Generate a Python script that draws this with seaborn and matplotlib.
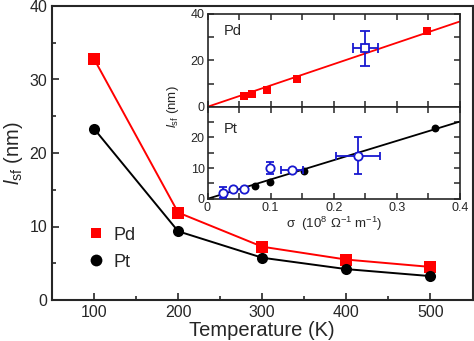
import matplotlib
matplotlib.use("Agg")
import matplotlib.pyplot as plt
from matplotlib.lines import Line2D
from matplotlib.ticker import MultipleLocator
import seaborn as sns
import pandas as pd
import numpy as np

# ---- data ----
temperature = [100, 200, 300, 400, 500]
pd_lsf = [32.8, 11.9, 7.25, 5.5, 4.5]
pt_lsf = [23.3, 9.35, 5.75, 4.2, 3.25]

# inset: Pd
pd_sigma = [0.0585, 0.0707, 0.094, 0.142, 0.348]
pd_l = [4.5, 5.6, 7.3, 12.0, 32.6]
pd_ref_sigma = [0.25]
pd_ref_l = [25.2]
pd_ref_xerr = [0.02]
pd_ref_yerr = [7.5]
pd_slope = 92.0

# inset: Pt
pt_sigma = [0.0759, 0.0996, 0.153, 0.360]
pt_l = [4.2, 5.6, 9.1, 23.2]
pt_ref_sigma = [0.0245, 0.040, 0.0577, 0.0996, 0.134, 0.238]
pt_ref_l = [2.05, 3.3, 3.3, 10.0, 9.45, 14.1]
pt_ref_xerr = [0.0, 0.0, 0.0, 0.0, 0.017, 0.035]
pt_ref_yerr = [1.8, 0.0, 0.0, 1.9, 0.0, 6.0]
pt_slope = 63.0

fit_sigma = [0.0, 0.4]
inset_xticks = [0, 0.1, 0.2, 0.3, 0.4]
inset_xticklabels = ["0", "0.1", "0.2", "0.3", "0.4"]

sns.set_style("ticks")
plt.rcParams["font.family"] = ["Liberation Sans", "DejaVu Sans"]
plt.rcParams["mathtext.fontset"] = "custom"
plt.rcParams["mathtext.rm"] = "Liberation Sans"
plt.rcParams["mathtext.it"] = "Liberation Sans:italic"
plt.rcParams["mathtext.bf"] = "Liberation Sans:bold"

W, H = 474, 341
fig = plt.figure(figsize=(W / 100, H / 100), dpi=100)

def fx(px):
    return px / W

def fy(py):
    return (H - py) / H

# main axes
ax = fig.add_axes([fx(52), fy(300), fx(472.5) - fx(52), fy(6) - fy(300)])
df = pd.DataFrame({
    "T": temperature * 2,
    "l": pd_lsf + pt_lsf,
    "metal": ["Pd"] * len(pd_lsf) + ["Pt"] * len(pt_lsf),
})
sns.lineplot(data=df, x="T", y="l", hue="metal", style="metal",
             markers={"Pd": "s", "Pt": "o"}, dashes=False,
             palette={"Pd": "#ff0000", "Pt": "black"},
             markersize=8, markeredgewidth=0, linewidth=1.4,
             legend=False, ax=ax)
ax.set_xlim(50, 550)
ax.set_ylim(0, 40)
ax.xaxis.set_major_locator(plt.FixedLocator([100, 200, 300, 400, 500]))
ax.xaxis.set_minor_locator(plt.FixedLocator([150, 250, 350, 450]))
ax.yaxis.set_major_locator(MultipleLocator(10))
ax.yaxis.set_minor_locator(MultipleLocator(5))
ax.tick_params(which="both", direction="in", top=False, right=False,
               labelsize=11.5, width=1.2)
ax.tick_params(which="major", length=5)
ax.tick_params(which="minor", length=3)
for s in ax.spines.values():
    s.set_linewidth(1.5)
ax.set_xlabel("Temperature (K)", fontsize=14.5, labelpad=1)
ax.set_ylabel(r"$l_{\rm sf}$ (nm)", fontsize=14.5, labelpad=3)

handles = [
    Line2D([], [], marker="s", color="#ff0000", linestyle="none", markersize=7.5, markeredgewidth=0),
    Line2D([], [], marker="o", color="black", linestyle="none", markersize=8.5, markeredgewidth=0),
]
ax.legend(handles, ["Pd", "Pt"], loc="lower left", bbox_to_anchor=(0.04, 0.045),
          frameon=False, fontsize=13, handletextpad=0.35, labelspacing=0.55,
          handlelength=1.2)

# inset
left, right = fx(207.5), fx(460)
top, mid, bot = fy(14), fy(106.8), fy(198.8)
ax1 = fig.add_axes([left, mid, right - left, top - mid])
ax2 = fig.add_axes([left, bot, right - left, mid - bot])

blue = "#1818d0"

# Pd panel
ax1.plot(fit_sigma, [pd_slope * s for s in fit_sigma], color="#ff0000", lw=1.3, zorder=2)
sns.scatterplot(x=pd_sigma, y=pd_l, marker="s", color="#ff0000", s=30,
                linewidth=0, ax=ax1, zorder=3)
ax1.errorbar(pd_ref_sigma, pd_ref_l, xerr=pd_ref_xerr, yerr=pd_ref_yerr,
             fmt="s", mfc="white", mec=blue, ecolor=blue, mew=1.3, ms=6,
             capsize=3.5, elinewidth=1.3, capthick=1.3, zorder=4)
ax1.set_xlim(0, 0.4)
ax1.set_ylim(0, 40)
ax1.yaxis.set_major_locator(plt.FixedLocator([0, 20, 40]))
ax1.yaxis.set_minor_locator(plt.FixedLocator([10, 30]))
ax1.xaxis.set_major_locator(MultipleLocator(0.1))
ax1.xaxis.set_minor_locator(MultipleLocator(0.05))
ax1.tick_params(which="both", direction="in", top=True, right=True,
                labelbottom=False, labelsize=9, length=4, width=1.1, pad=2)
ax1.text(0.065, 0.77, "Pd", transform=ax1.transAxes, fontsize=10.5)

# Pt panel
ax2.plot(fit_sigma, [pt_slope * s for s in fit_sigma], color="black", lw=1.3, zorder=2)
sns.scatterplot(x=pt_sigma, y=pt_l, marker="o", color="black", s=32,
                linewidth=0, ax=ax2, zorder=3)
ax2.errorbar(pt_ref_sigma, pt_ref_l, xerr=pt_ref_xerr, yerr=pt_ref_yerr,
             fmt="o", mfc="white", mec=blue, ecolor=blue, mew=1.3, ms=6,
             capsize=3, elinewidth=1.3, capthick=1.3, zorder=4)
ax2.set_xlim(0, 0.4)
ax2.set_ylim(0, 30)
ax2.yaxis.set_major_locator(plt.FixedLocator([0, 10, 20]))
ax2.yaxis.set_minor_locator(plt.FixedLocator([5, 15, 25]))
ax2.set_xticks(inset_xticks)
ax2.set_xticklabels(inset_xticklabels)
ax2.xaxis.set_minor_locator(MultipleLocator(0.05))
ax2.tick_params(which="both", direction="in", top=True, right=True,
                labelsize=9, length=4, width=1.1, pad=2)
ax2.text(0.065, 0.71, "Pt", transform=ax2.transAxes, fontsize=10.5)
ax2.set_xlabel(r"σ  (10$^{8}$ Ω$^{-1}$ m$^{-1}$)", fontsize=9.5, labelpad=1)

for a in (ax1, ax2):
    for s in a.spines.values():
        s.set_linewidth(1.2)

fig.text(fx(173), fy(106.8), r"$l_{\rm sf}$ (nm)", rotation=90,
         ha="center", va="center", fontsize=9.5)

fig.savefig("out.png", dpi=100)
